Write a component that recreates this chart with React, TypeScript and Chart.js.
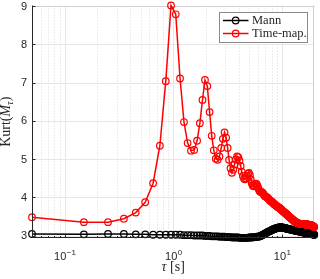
import { useEffect, useRef } from 'react';
import { Chart, registerables } from 'chart.js';

Chart.register(...registerables);

// τ [s] sampling of both series
const TAU = [
  0.05, 0.15, 0.25, 0.35, 0.45, 0.55, 0.65, 0.75, 0.85, 0.95,
  1.05, 1.15, 1.25, 1.35, 1.45, 1.55, 1.65, 1.75, 1.85, 1.95,
  2.05, 2.15, 2.25, 2.35, 2.45, 2.55, 2.65, 2.75, 2.85, 2.95,
  3.05, 3.15, 3.25, 3.35, 3.45, 3.55, 3.65, 3.75, 3.85, 3.95,
  4.05, 4.15, 4.25, 4.35, 4.45, 4.55, 4.65, 4.75, 4.85, 4.95,
  5.05, 5.15, 5.25, 5.35, 5.45, 5.55, 5.65, 5.75, 5.85, 5.95,
  6.05, 6.15, 6.25, 6.35, 6.45, 6.55, 6.65, 6.75, 6.85, 6.95,
  7.05, 7.15, 7.25, 7.35, 7.45, 7.55, 7.65, 7.75, 7.85, 7.95,
  8.05, 8.15, 8.25, 8.35, 8.45, 8.55, 8.65, 8.75, 8.85, 8.95,
  9.05, 9.15, 9.25, 9.35, 9.45, 9.55, 9.65, 9.75, 9.85, 9.95,
  10.05, 10.15, 10.25, 10.35, 10.45, 10.55, 10.65, 10.75, 10.85, 10.95,
  11.05, 11.15, 11.25, 11.35, 11.45, 11.55, 11.65, 11.75, 11.85, 11.95,
  12.05, 12.15, 12.25, 12.35, 12.45, 12.55, 12.65, 12.75, 12.85, 12.95,
  13.05, 13.15, 13.25, 13.35, 13.45, 13.55, 13.65, 13.75, 13.85, 13.95,
  14.05, 14.15, 14.25, 14.35, 14.45, 14.55, 14.65, 14.75, 14.85, 14.95,
  15.05, 15.15, 15.25, 15.35, 15.45, 15.55, 15.65, 15.75, 15.85, 15.95,
  16.05, 16.15, 16.25, 16.35, 16.45, 16.55, 16.65, 16.75, 16.85, 16.95,
  17.05, 17.15, 17.25, 17.35, 17.45, 17.55, 17.65, 17.75, 17.85, 17.95,
  18.05, 18.15, 18.25, 18.35, 18.45, 18.55, 18.65, 18.75, 18.85, 18.95,
  19.05, 19.15, 19.25, 19.35, 19.45, 19.55, 19.65, 19.75,
];

const KURT_MANN = [
  3.04, 3.03, 3.04, 3.04, 3.03, 3.03, 3.02, 3.02, 3.02, 3.02,
  3.02, 3.02, 3.01, 3.01, 3.01, 3.00, 3.00, 3.00, 3.00, 2.99,
  2.99, 2.99, 2.98, 2.98, 2.98, 2.98, 2.97, 2.97, 2.97, 2.97,
  2.96, 2.96, 2.96, 2.96, 2.95, 2.95, 2.95, 2.95, 2.95, 2.95,
  2.94, 2.94, 2.94, 2.94, 2.94, 2.94, 2.94, 2.94, 2.94, 2.95,
  2.95, 2.95, 2.95, 2.95, 2.96, 2.96, 2.96, 2.96, 2.97, 2.97,
  2.97, 2.98, 2.98, 2.99, 3.00, 3.01, 3.02, 3.03, 3.04, 3.05,
  3.06, 3.07, 3.08, 3.09, 3.10, 3.11, 3.11, 3.12, 3.13, 3.14,
  3.15, 3.15, 3.16, 3.17, 3.17, 3.18, 3.18, 3.19, 3.19, 3.20,
  3.20, 3.20, 3.21, 3.21, 3.21, 3.21, 3.21, 3.21, 3.21, 3.21,
  3.21, 3.21, 3.20, 3.20, 3.20, 3.20, 3.19, 3.19, 3.19, 3.18,
  3.18, 3.18, 3.18, 3.17, 3.17, 3.17, 3.17, 3.16, 3.16, 3.16,
  3.16, 3.15, 3.15, 3.15, 3.15, 3.14, 3.14, 3.14, 3.14, 3.13,
  3.13, 3.13, 3.13, 3.13, 3.12, 3.12, 3.12, 3.12, 3.12, 3.12,
  3.11, 3.11, 3.11, 3.11, 3.11, 3.10, 3.10, 3.10, 3.10, 3.10,
  3.10, 3.09, 3.09, 3.09, 3.09, 3.09, 3.08, 3.08, 3.08, 3.08,
  3.08, 3.08, 3.07, 3.07, 3.07, 3.07, 3.07, 3.07, 3.06, 3.06,
  3.06, 3.06, 3.06, 3.06, 3.05, 3.05, 3.05, 3.05, 3.05, 3.05,
  3.05, 3.04, 3.04, 3.04, 3.04, 3.04, 3.04, 3.04, 3.04, 3.03,
  3.03, 3.03, 3.03, 3.03, 3.03, 3.02, 3.02, 3.02,
];

const KURT_TIMEMAP = [
  3.48, 3.35, 3.35, 3.44, 3.60, 3.87, 4.37, 5.35, 7.04, 9.02,
  8.79, 7.11, 5.97, 5.42, 5.22, 5.24, 5.48, 5.94, 6.55, 7.07,
  6.91, 6.23, 5.61, 5.23, 5.01, 4.98, 5.07, 5.29, 5.53, 5.70,
  5.56, 5.29, 4.98, 4.76, 4.64, 4.72, 4.86, 4.99, 5.07, 5.05,
  4.96, 4.82, 4.67, 4.56, 4.49, 4.47, 4.50, 4.56, 4.62, 4.64,
  4.58, 4.47, 4.37, 4.31, 4.29, 4.31, 4.34, 4.36, 4.34, 4.29,
  4.23, 4.18, 4.15, 4.14, 4.14, 4.13, 4.11, 4.08, 4.05, 4.03,
  4.02, 4.01, 4.00, 3.99, 3.97, 3.95, 3.93, 3.91, 3.90, 3.89,
  3.88, 3.87, 3.85, 3.84, 3.82, 3.81, 3.80, 3.79, 3.78, 3.76,
  3.75, 3.75, 3.74, 3.73, 3.72, 3.71, 3.70, 3.69, 3.68, 3.66,
  3.65, 3.64, 3.63, 3.62, 3.61, 3.60, 3.59, 3.58, 3.57, 3.56,
  3.55, 3.54, 3.53, 3.52, 3.51, 3.50, 3.49, 3.48, 3.47, 3.46,
  3.45, 3.44, 3.44, 3.43, 3.42, 3.41, 3.40, 3.39, 3.38, 3.38,
  3.37, 3.36, 3.36, 3.35, 3.35, 3.34, 3.34, 3.33, 3.33, 3.32,
  3.32, 3.32, 3.31, 3.31, 3.31, 3.31, 3.30, 3.30, 3.30, 3.30,
  3.30, 3.30, 3.30, 3.30, 3.30, 3.30, 3.30, 3.30, 3.30, 3.30,
  3.30, 3.30, 3.29, 3.29, 3.29, 3.29, 3.29, 3.29, 3.29, 3.29,
  3.29, 3.29, 3.29, 3.28, 3.28, 3.28, 3.28, 3.28, 3.28, 3.28,
  3.28, 3.27, 3.27, 3.27, 3.27, 3.27, 3.26, 3.26, 3.26, 3.25,
  3.25, 3.25, 3.24, 3.24, 3.23, 3.23, 3.22, 3.22,
];

const SERIES_LABELS = ['Mann', 'Time-map.'];
const SERIES_COLORS = ['#000000', '#ff0000'];

const Y_TICKS = [3, 4, 5, 6, 7, 8, 9];
const X_MAJOR = [0.1, 1, 10];
const X_MAJOR_EXPONENTS = ['-1', '0', '1'];
const X_MINOR = [0.06, 0.07, 0.08, 0.09, 0.2, 0.3, 0.4, 0.5, 0.6, 0.7, 0.8, 0.9, 2, 3, 4, 5, 6, 7, 8, 9];

const X_MIN = 0.05;
const X_MAX = 19.75;
const Y_MIN = 2.935;
const Y_MAX = 9.02;

const SANS = "'Liberation Sans', Arial, sans-serif";
const SERIF = "'Liberation Serif', 'Times New Roman', serif";
const AXIS_COLOR = '#262626';

const decorations = {
  id: 'decorations',
  beforeDatasetsDraw(chart: any) {
    const { ctx, chartArea: a, scales } = chart;
    const x = scales.x;
    const y = scales.y;
    ctx.save();
    ctx.lineWidth = 1;
    // minor dotted grid
    ctx.strokeStyle = '#d9d9d9';
    ctx.setLineDash([1, 2]);
    for (const v of X_MINOR) {
      const px = Math.round(x.getPixelForValue(v)) + 0.5;
      ctx.beginPath();
      ctx.moveTo(px, a.top);
      ctx.lineTo(px, a.bottom);
      ctx.stroke();
    }
    ctx.setLineDash([]);
    ctx.strokeStyle = '#e6e6e6';
    for (const v of X_MAJOR) {
      const px = Math.round(x.getPixelForValue(v)) + 0.5;
      ctx.beginPath();
      ctx.moveTo(px, a.top);
      ctx.lineTo(px, a.bottom);
      ctx.stroke();
    }
    for (const v of Y_TICKS) {
      const py = Math.round(y.getPixelForValue(v)) + 0.5;
      ctx.beginPath();
      ctx.moveTo(a.left, py);
      ctx.lineTo(a.right, py);
      ctx.stroke();
    }
    // light box top / right
    ctx.strokeStyle = '#d0d0d0';
    ctx.beginPath();
    ctx.moveTo(Math.round(a.right) - 0.5, a.top);
    ctx.lineTo(Math.round(a.right) - 0.5, a.bottom);
    ctx.moveTo(a.left, Math.round(a.top) + 0.5);
    ctx.lineTo(a.right, Math.round(a.top) + 0.5);
    ctx.stroke();
    ctx.restore();
  },
  afterDatasetsDraw(chart: any) {
    const { ctx, chartArea: a, scales } = chart;
    const x = scales.x;
    const y = scales.y;
    ctx.save();
    // axes
    const left = Math.round(a.left) + 0.5;
    const bottom = Math.round(a.bottom) - 0.5;
    ctx.strokeStyle = AXIS_COLOR;
    ctx.lineWidth = 1;
    ctx.beginPath();
    ctx.moveTo(left, a.top);
    ctx.lineTo(left, bottom);
    ctx.lineTo(a.right, bottom);
    ctx.stroke();
    // tick marks (inward)
    ctx.beginPath();
    for (const v of Y_TICKS) {
      const py = Math.round(y.getPixelForValue(v)) + 0.5;
      ctx.moveTo(left, py);
      ctx.lineTo(left + 3, py);
    }
    for (const v of X_MAJOR) {
      const px = Math.round(x.getPixelForValue(v)) + 0.5;
      ctx.moveTo(px, bottom);
      ctx.lineTo(px, bottom - 3);
    }
    for (const v of X_MINOR) {
      const px = Math.round(x.getPixelForValue(v)) + 0.5;
      ctx.moveTo(px, bottom);
      ctx.lineTo(px, bottom - 1.5);
    }
    ctx.stroke();

    // y tick labels
    ctx.fillStyle = AXIS_COLOR;
    ctx.font = `11px ${SANS}`;
    ctx.textAlign = 'right';
    ctx.textBaseline = 'middle';
    for (const v of Y_TICKS) {
      ctx.fillText(String(v), a.left - 5, y.getPixelForValue(v) + 0.5);
    }
    // x tick labels: 10^n
    ctx.textBaseline = 'alphabetic';
    ctx.textAlign = 'left';
    X_MAJOR.forEach((v, i) => {
      const px = x.getPixelForValue(v);
      ctx.font = `11px ${SANS}`;
      const wb = ctx.measureText('10').width;
      ctx.font = `8px ${SANS}`;
      const exp = X_MAJOR_EXPONENTS[i].replace('-', '\u2212');
      const we = ctx.measureText(exp).width;
      const start = px - (wb + we) / 2;
      ctx.font = `11px ${SANS}`;
      ctx.fillText('10', start, 259.5);
      ctx.font = `8px ${SANS}`;
      ctx.fillText(exp, start + wb + 0.5, 254.5);
    });

    // x title: τ [s]
    ctx.font = `italic 14px ${SERIF}`;
    const wTau = ctx.measureText('τ').width;
    ctx.font = `14px ${SERIF}`;
    const wRest = ctx.measureText(' [s]').width;
    const cx = (a.left + a.right) / 2;
    let sx = cx - (wTau + wRest) / 2;
    ctx.font = `italic 14px ${SERIF}`;
    ctx.fillText('τ', sx, 270.5);
    ctx.font = `14px ${SERIF}`;
    ctx.fillText(' [s]', sx + wTau, 270.5);

    // y title: Kurt(M_τ)
    ctx.save();
    ctx.translate(10, (a.top + a.bottom) / 2);
    ctx.rotate(-Math.PI / 2);
    const parts = [
      { t: 'Kurt(', f: `14px ${SERIF}`, dy: 0 },
      { t: 'M', f: `italic 14px ${SERIF}`, dy: 0 },
      { t: 'τ', f: `italic 10px ${SERIF}`, dy: 3 },
      { t: ')', f: `14px ${SERIF}`, dy: 0 },
    ];
    let total = 0;
    for (const p of parts) {
      ctx.font = p.f;
      total += ctx.measureText(p.t).width;
    }
    let tx = -total / 2;
    for (const p of parts) {
      ctx.font = p.f;
      ctx.fillText(p.t, tx, p.dy);
      tx += ctx.measureText(p.t).width;
    }
    ctx.restore();

    // legend
    const lx = 219.5, ly = 12.5, lw = 88, lh = 30;
    ctx.fillStyle = '#ffffff';
    ctx.fillRect(lx, ly, lw, lh);
    ctx.strokeStyle = '#8a8a8a';
    ctx.lineWidth = 1;
    ctx.strokeRect(lx, ly, lw, lh);
    SERIES_LABELS.forEach((label, i) => {
      const cy = 20.5 + i * 13;
      ctx.strokeStyle = SERIES_COLORS[i];
      ctx.lineWidth = 1.5;
      ctx.beginPath();
      ctx.moveTo(223, cy);
      ctx.lineTo(248.5, cy);
      ctx.stroke();
      ctx.lineWidth = 1.2;
      ctx.beginPath();
      ctx.arc(235.7, cy, 3.3, 0, Math.PI * 2);
      ctx.stroke();
      ctx.fillStyle = AXIS_COLOR;
      ctx.font = `12.5px ${SERIF}`;
      ctx.textBaseline = 'middle';
      ctx.textAlign = 'left';
      ctx.fillText(label, 252, cy + 0.5);
    });
    ctx.restore();
  },
};

export default function App() {
  const canvasRef = useRef<HTMLCanvasElement | null>(null);

  useEffect(() => {
    document.body.style.margin = '0';
    const canvas = canvasRef.current;
    if (!canvas) return;
    const makeData = (vals: number[]) => TAU.map((t, i) => ({ x: t, y: vals[i] }));
    const chart = new Chart(canvas, {
      type: 'scatter',
      data: {
        datasets: [
          {
            label: SERIES_LABELS[0],
            data: makeData(KURT_MANN),
            showLine: true,
            borderColor: SERIES_COLORS[0],
            borderWidth: 1.5,
            backgroundColor: 'rgba(0,0,0,0)',
            pointBorderColor: SERIES_COLORS[0],
            pointBackgroundColor: 'rgba(0,0,0,0)',
            pointRadius: 3.3,
            pointBorderWidth: 1.2,
            pointHoverRadius: 3.3,
            order: 2,
            clip: false as any,
          },
          {
            label: SERIES_LABELS[1],
            data: makeData(KURT_TIMEMAP),
            showLine: true,
            borderColor: SERIES_COLORS[1],
            borderWidth: 1.5,
            backgroundColor: 'rgba(0,0,0,0)',
            pointBorderColor: SERIES_COLORS[1],
            pointBackgroundColor: 'rgba(0,0,0,0)',
            pointRadius: 3.3,
            pointBorderWidth: 1.2,
            pointHoverRadius: 3.3,
            order: 1,
            clip: false as any,
          },
        ],
      },
      options: {
        animation: false,
        responsive: false,
        devicePixelRatio: 1,
        events: [],
        layout: { padding: { left: 0, top: 5.5, right: 5.7, bottom: 0 } },
        plugins: {
          legend: { display: false },
          tooltip: { enabled: false },
          title: { display: false },
        },
        scales: {
          x: {
            type: 'logarithmic',
            min: X_MIN,
            max: X_MAX,
            grid: { display: false },
            border: { display: false },
            ticks: { display: false },
            afterFit: (s: any) => {
              s.height = 41;
            },
          },
          y: {
            type: 'linear',
            min: Y_MIN,
            max: Y_MAX,
            grid: { display: false },
            border: { display: false },
            ticks: { display: false },
            afterFit: (s: any) => {
              s.width = 32;
            },
          },
        },
      },
      plugins: [decorations],
    });
    return () => chart.destroy();
  }, []);

  return (
    <div style={{ width: 320, height: 279, position: 'relative' }}>
      <canvas ref={canvasRef} width={320} height={279} style={{ display: 'block' }} />
    </div>
  );
}
